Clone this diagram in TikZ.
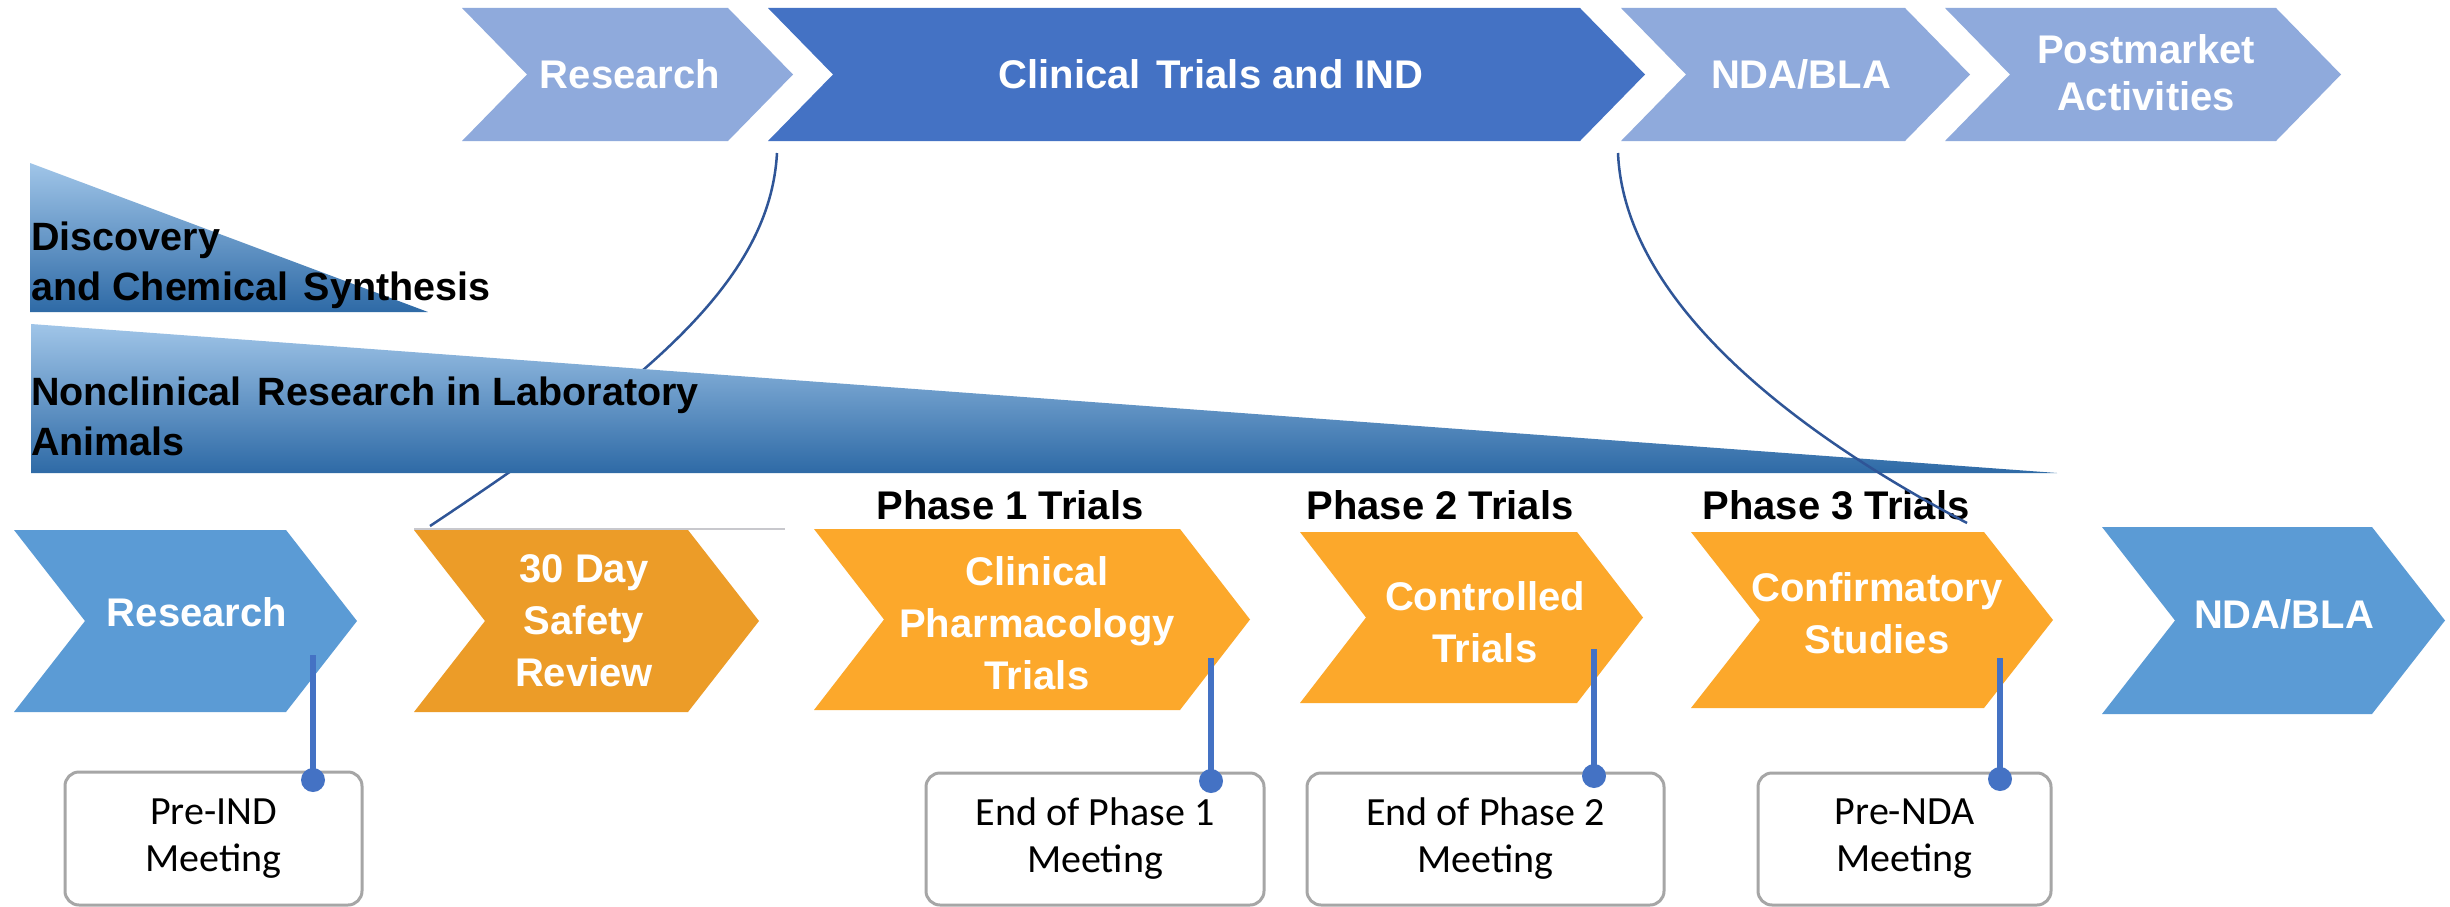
\documentclass[tikz,border=0pt]{standalone}
\usepackage{fontspec}
\setmainfont{Liberation Sans}
\newfontfamily\meetfont{Carlito}
\definecolor{topLight}{RGB}{143,170,220}
\definecolor{topDark}{RGB}{68,114,196}
\definecolor{botBlue}{RGB}{91,155,213}
\definecolor{orgDark}{RGB}{236,156,40}
\definecolor{orgLight}{RGB}{252,168,43}
\definecolor{triTop}{RGB}{160,197,232}
\definecolor{triMid}{RGB}{96,157,212}
\definecolor{triBot}{RGB}{46,106,166}
\definecolor{curveCol}{RGB}{47,85,151}
\definecolor{connCol}{RGB}{68,114,196}
\definecolor{boxLine}{RGB}{166,166,166}
\newcommand\chevronshape[6]{\fill[#6] (#1,#3) -- (#2,#3) -- ({#2+#5},{(#3+#4)/2}) -- (#2,#4) -- (#1,#4) -- ({#1+#5},{(#3+#4)/2}) -- cycle;}
\newcommand\wsp{\ \hspace{0.12em}}
\tikzset{
  chevtext/.style={text=white, font=\bfseries\fontsize{40}{47}\selectfont, align=center, inner sep=0pt},
  chevtextb/.style={text=white, font=\bfseries\fontsize{40}{52}\selectfont, align=center, inner sep=0pt},
  tritext/.style={text=black, font=\bfseries\fontsize{39.5}{50}\selectfont, inner sep=0pt, anchor=base west},
  phasetext/.style={text=black, font=\bfseries\fontsize{40}{48}\selectfont, inner sep=0pt},
  meetbox/.style={draw=boxLine, line width=3pt, fill=white, rounded corners=14pt, align=center, inner sep=0pt, font=\meetfont\fontsize{40}{47}\selectfont, text=black},
  curve/.style={draw=curveCol, line width=2.5pt},
  conn/.style={draw=connCol, line width=6pt},
  dotc/.style={fill=connCol},
}
\begin{document}
\begin{tikzpicture}[x=1pt,y=-1pt]
\useasboundingbox (0,0) rectangle (2450,907);
\fill[white] (0,0) rectangle (2450,907);
% top row
\chevronshape{462}{728}{8}{141}{65}{topLight}
\chevronshape{768}{1580}{8}{141}{65}{topDark}
\chevronshape{1621}{1905}{8}{141}{65}{topLight}
\chevronshape{1945}{2276}{8}{141}{65}{topLight}
\node[chevtext] (tResearch) at (630,74) {Research};
\node[chevtext] (tClinical) at (1211,74) {Clinical\wsp Trials and IND};
\node[chevtext] (tNDA) at (1801,74) {NDA/BLA};
\node[chevtext] (tPost) at (2146,73) {Postmarket\\Activities};
% curve anchors
\coordinate (lcTop) at (777,153);
\coordinate (lcBot) at (430,526);
\coordinate (rcTop) at (1618,153);
\coordinate (rcBot) at (1967,523);
% left curve (behind triangle)
\draw[curve] (lcTop) .. controls (770,280) and (650,380) .. (lcBot);
% triangles
\shade[top color=triTop, middle color=triMid, bottom color=triBot] (30,163) -- (428,312) -- (30,312) -- cycle;
\shade[top color=triTop, middle color=triMid, bottom color=triBot] (31,324) -- (2057,473) -- (31,473) -- cycle;
\node[tritext] (tDisc1) at (31,250) {Discovery};
\node[tritext] (tDisc2) at (31,300) {and Chemical\wsp Synthesis};
\node[tritext] (tNon1) at (31,405) {Nonclinical\wsp Research in Laboratory};
\node[tritext] (tNon2) at (31,455) {Animals};
% thin line above 30 day
\draw[draw={rgb,255:red,200;green,200;blue,205}, line width=1.5pt] (414,529) -- (785,529);
% bottom row
\chevronshape{14}{286}{530}{712}{71}{botBlue}
\chevronshape{414}{688}{530}{712}{71}{orgDark}
\chevronshape{814}{1180}{529}{710}{70}{orgLight}
\chevronshape{1300}{1577}{532}{703}{66}{orgLight}
\chevronshape{1691}{1984}{532}{708}{69}{orgLight}
\chevronshape{2102}{2372}{527}{714}{73}{botBlue}
\node[chevtextb] (bResearch) at (197,612) {Research};
\node[chevtextb] (bSafety) at (584,621) {30 Day\\Safety\\Review};
\node[chevtextb] (bPharm) at (1037,623) {Clinical\\Pharmacology\\Trials};
\node[chevtextb] (bControl) at (1485,622) {Controlled\\Trials};
\node[chevtextb] (bConfirm) at (1877,613) {Confirmatory\\Studies};
\node[chevtextb] (bNDA) at (2284,614) {NDA/BLA};
% phase labels
\node[phasetext] (p1) at (1010,505) {Phase 1 Trials};
\node[phasetext] (p2) at (1440,505) {Phase 2 Trials};
\node[phasetext] (p3) at (1836,505) {Phase 3 Trials};
% right curve (in front)
\draw[curve] (rcTop) .. controls (1624,295) and (1780,425) .. (rcBot);
% meeting boxes
\node[meetbox, minimum width=297pt, minimum height=133pt] (m1) at (213.5,838.5) {Pre-IND\\Meeting};
\node[meetbox, minimum width=338pt, minimum height=132pt] (m2) at (1095,839) {End of Phase 1\\Meeting};
\node[meetbox, minimum width=357pt, minimum height=132pt] (m3) at (1485.5,839) {End of Phase 2\\Meeting};
\node[meetbox, minimum width=293pt, minimum height=132pt] (m4) at (1904.5,839) {Pre-NDA\\Meeting};
% connectors
\coordinate (c1) at (313,655); \coordinate (d1) at (313,780);
\coordinate (c2) at (1211,658); \coordinate (d2) at (1211,781);
\coordinate (c3) at (1594,649); \coordinate (d3) at (1594,776);
\coordinate (c4) at (2000,658); \coordinate (d4) at (2000,779);
\draw[conn] (c1) -- (d1);
\draw[conn] (c2) -- (d2);
\draw[conn] (c3) -- (d3);
\draw[conn] (c4) -- (d4);
\fill[dotc] (d1) circle (12);
\fill[dotc] (d2) circle (12);
\fill[dotc] (d3) circle (12);
\fill[dotc] (d4) circle (12);
\end{tikzpicture}
\end{document}
